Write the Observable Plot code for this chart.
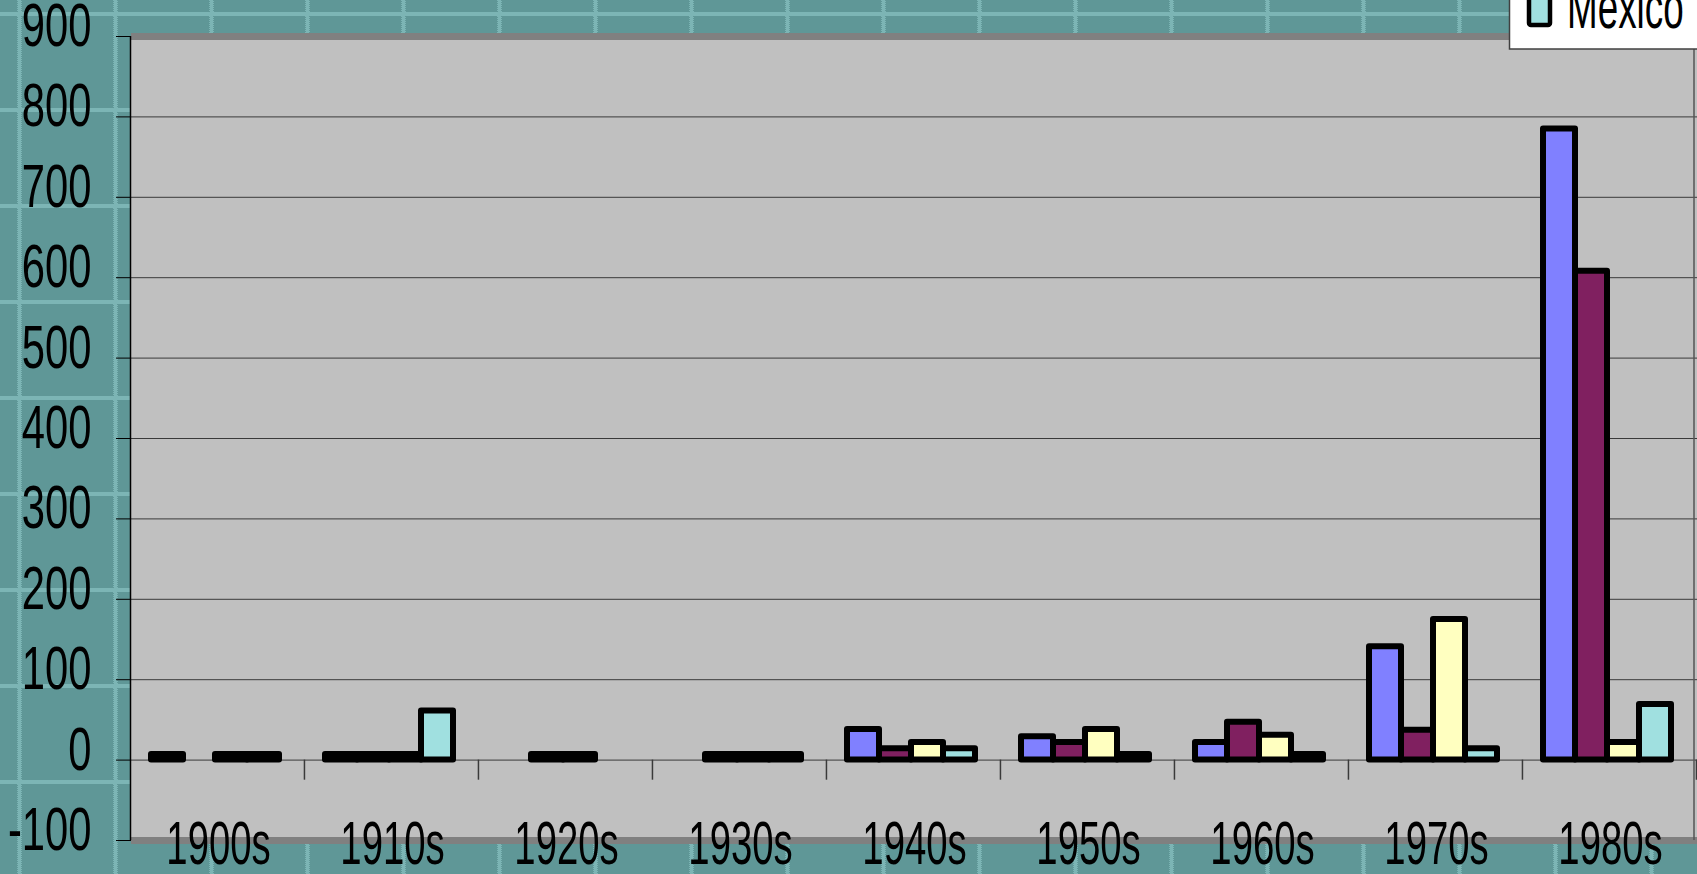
<!DOCTYPE html>
<html>
<head>
<meta charset="utf-8">
<script src="https://cdn.jsdelivr.net/npm/d3@7"></script>
<script src="https://cdn.jsdelivr.net/npm/@observablehq/plot@0.6"></script>
<style>
  html, body { margin: 0; padding: 0; background: #5f9797; overflow: hidden; }
  #chart svg { display: block; max-width: none; }
</style>
</head>
<body>
<div id="chart"></div>
<script>
// Decades along the category axis
const decades = ["1900s", "1910s", "1920s", "1930s", "1940s", "1950s", "1960s", "1970s", "1980s"];

// Series (null = no bar for that decade)
const seriesNames = ["Series 1", "Series 2", "Series 3", "Mexico"];
const series1 = [7, 7, null, null, 38, 29, 22, 141, 785];
const series2 = [null, 7, 7, 7, 14, 22, 47, 37, 608];
const series3 = [7, 7, 7, 7, 22, 38, 31, 175, 22];
const mexico  = [7, 61, null, 7, 14, 7, 7, 14, 69];
const seriesColors = ["#8080ff", "#802060", "#ffffc0", "#a0e0e0"];

// Value axis
const yTicks = [-100, 0, 100, 200, 300, 400, 500, 600, 700, 800, 900];
const yTickLabels = ["-100", "0", "100", "200", "300", "400", "500", "600", "700", "800", "900"];

const allSeries = [series1, series2, series3, mexico];
const rows = decades.flatMap((decade, i) =>
  allSeries.map((values, s) => ({decade, series: seriesNames[s], value: values[i]}))
).filter(d => d.value != null);

const W = 1697, H = 874;
const margin = {left: 131, right: 0, top: 36, bottom: 34};
const padOuter = 0.68, bandAlign = 0.44;
const facetWidth = (W - margin.left - margin.right) / decades.length;
const step = facetWidth / (seriesNames.length + 2 * padOuter);
// distance from the centre of the last bar to the right edge of its decade
const edgeOffset = step / 2 + 2 * padOuter * step * (1 - bandAlign);
const font = "'Liberation Sans', Arial, sans-serif";
const fontSize = 61;

const chart = Plot.plot({
  width: W,
  height: H,
  marginLeft: margin.left,
  marginRight: margin.right,
  marginTop: margin.top,
  marginBottom: margin.bottom,
  style: {background: "transparent", fontFamily: font, fontSize: `${fontSize}px`, color: "black"},
  fx: {domain: decades, padding: 0, label: null},
  x: {domain: seriesNames, paddingInner: 0, paddingOuter: padOuter, align: bandAlign, axis: null},
  y: {domain: [-100, 900], label: null},
  color: {domain: seriesNames, range: seriesColors},
  marks: [
    Plot.gridY(yTicks.filter(v => v > 0 && v < 900), {stroke: "#3a3a3a", strokeOpacity: 1, strokeWidth: 1}),
    Plot.ruleY([0], {stroke: "#3a3a3a", strokeWidth: 1}),
    Plot.ruleY([900, -100], {stroke: "#808080", strokeWidth: 7}),
    Plot.ruleX(decades, {fx: d => d, x: () => seriesNames[3], y1: 0, y2: -25, dx: edgeOffset, stroke: "#3a3a3a", strokeWidth: 1.5}),
    Plot.barY(rows, {
      fx: "decade", x: "series", y: "value", fill: "series",
      stroke: "black", strokeWidth: 6, strokeLinejoin: "round"
    }),
    Plot.axisY(yTicks, {
      tickFormat: d => yTickLabels[yTicks.indexOf(d)],
      tickSize: 15, tickPadding: 25, label: null, stroke: "black"
    }),
    Plot.axisFx({anchor: "bottom", tickSize: 0, tickPadding: -20, label: null})
  ]
});

document.getElementById("chart").append(chart);
const svg = d3.select(chart);
const y = chart.scale("y");

// grey plot area behind all marks
svg.insert("rect", ":first-child")
  .attr("x", margin.left).attr("y", y.apply(900))
  .attr("width", W - margin.left - margin.right).attr("height", y.apply(-100) - y.apply(900))
  .attr("fill", "#c0c0c0");

// textured teal backdrop
svg.insert("rect", ":first-child").attr("width", W).attr("height", H).attr("fill", "url(#tile)");
const defs = svg.insert("defs", ":first-child");
const dots = defs.append("pattern").attr("id", "dots")
  .attr("patternUnits", "userSpaceOnUse").attr("width", 2).attr("height", 2);
dots.append("rect").attr("width", 2).attr("height", 2).attr("fill", "#5f9797");
dots.append("rect").attr("width", 1).attr("height", 1).attr("fill", "#9ad2d2");
dots.append("rect").attr("x", 1).attr("y", 1).attr("width", 1).attr("height", 1).attr("fill", "#9ad2d2");
const tile = defs.append("pattern").attr("id", "tile")
  .attr("patternUnits", "userSpaceOnUse").attr("width", 96).attr("height", 96)
  .attr("x", 17.5).attr("y", 12);
tile.append("rect").attr("width", 96).attr("height", 96).attr("fill", "#5f9797");
tile.append("rect").attr("width", 4).attr("height", 96).attr("fill", "url(#dots)");
tile.append("rect").attr("width", 96).attr("height", 4).attr("fill", "url(#dots)");

// value axis line and right border of the plot area
svg.append("line")
  .attr("x1", margin.left - 0.5).attr("x2", margin.left - 0.5)
  .attr("y1", y.apply(900)).attr("y2", y.apply(-100))
  .attr("stroke", "black").attr("stroke-width", 1.5);
svg.append("line")
  .attr("x1", W - 3).attr("x2", W - 3)
  .attr("y1", y.apply(900)).attr("y2", y.apply(-100))
  .attr("stroke", "#555").attr("stroke-width", 1.5);

// narrow the lettering
function condense(sel, factor) {
  sel.each(function() {
    const len = this.getComputedTextLength();
    this.setAttribute("textLength", (len * factor).toFixed(1));
    this.setAttribute("lengthAdjust", "spacingAndGlyphs");
  });
}
const k = 58 / fontSize;
const yLabelGroup = svg.select('g[aria-label="y-axis tick label"]');
const prior = yLabelGroup.attr("transform") || "";
yLabelGroup.attr("transform", (prior + " translate(0,-10)").trim());
condense(yLabelGroup.selectAll("text"), 0.72 * k);
condense(svg.selectAll('g[aria-label="fx-axis tick label"] text'), 0.66 * k);

// legend (last entry shown at the top edge)
const legend = svg.append("g").attr("text-anchor", "start");
legend.append("rect")
  .attr("x", 1509.5).attr("y", -10).attr("width", 200).attr("height", 59)
  .attr("fill", "white").attr("stroke", "#404040").attr("stroke-width", 1.5);
legend.append("rect")
  .attr("x", 1529).attr("y", -10).attr("width", 21).attr("height", 35).attr("rx", 2)
  .attr("fill", seriesColors[3]).attr("stroke", "black").attr("stroke-width", 4.5)
  .attr("stroke-linejoin", "round");
const legendText = legend.append("text")
  .attr("x", 1567).attr("y", 27.5).attr("text-anchor", "start")
  .attr("font-family", font).attr("font-size", fontSize).attr("fill", "black")
  .text(seriesNames[3]);
condense(legendText, 0.635 * k);
</script>
</body>
</html>
